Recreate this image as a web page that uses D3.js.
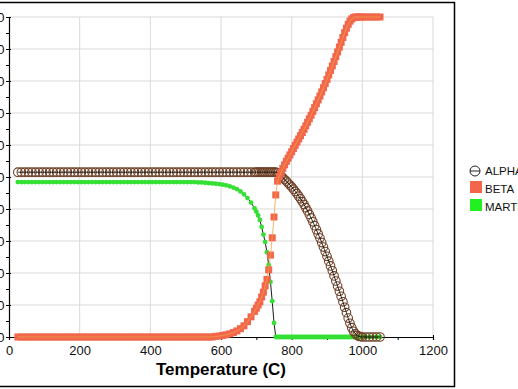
<!DOCTYPE html>
<html>
<head>
<meta charset="utf-8">
<script src="https://cdn.jsdelivr.net/npm/d3@7"></script>
<style>
  body { margin: 0; background: #fff; }
  svg { display: block; font-family: "Liberation Sans", Arial, sans-serif; }
</style>
</head>
<body>
<div id="chart"></div>
<script>
// temperatures (C) of the computed steps
const temps = [
  25, 35, 45, 55, 65, 75, 85, 95, 105, 115, 125, 135, 145, 155, 165, 175, 185, 195,
  205, 215, 225, 235, 245, 255, 265, 275, 285, 295, 305, 315, 325, 335, 345, 355,
  365, 375, 385, 395, 405, 415, 425, 435, 445, 455, 465, 475, 485, 495, 505, 515,
  525, 535, 545, 555, 565, 575, 585, 595, 605, 615, 625, 635, 645, 655, 665, 675,
  685, 695,
  700, 705, 710, 715, 720, 725, 730, 735, 740, 745, 750, 755,
  760, 765, 770, 775, 780, 785, 790, 795, 800, 805, 810, 815, 820, 825, 830, 835,
  840, 845, 850, 855, 860, 865, 870, 875, 880, 885, 890, 895, 900, 905, 910, 915,
  920, 925, 930, 935, 940, 945, 950, 955, 960, 965, 970, 975, 980, 985, 990, 995,
  1000, 1010, 1020, 1030, 1040, 1050
];

// phase fractions (%)
const alpha = [
  51.5, 51.5, 51.5, 51.5, 51.5, 51.5, 51.5, 51.5, 51.5, 51.5, 51.5, 51.5, 51.5, 51.5, 51.5, 51.5, 51.5, 51.5,
  51.5, 51.5, 51.5, 51.5, 51.5, 51.5, 51.5, 51.5, 51.5, 51.5, 51.5, 51.5, 51.5, 51.5, 51.5, 51.5,
  51.5, 51.5, 51.5, 51.5, 51.5, 51.5, 51.5, 51.5, 51.5, 51.5, 51.5, 51.5, 51.5, 51.5, 51.5, 51.5,
  51.5, 51.5, 51.5, 51.5, 51.5, 51.5, 51.5, 51.5, 51.5, 51.5, 51.5, 51.5, 51.5, 51.5, 51.5, 51.5,
  51.5, 51.5,
  51.5, 51.5, 51.5, 51.5, 51.5, 51.5, 51.5, 51.5, 51.5, 51.5, 51.5, 51.5,
  51.3, 50.8, 50.3, 49.8, 49.2, 48.7, 48.1, 47.5, 46.9, 46.2, 45.5, 44.8, 44.0, 43.2, 42.3, 41.4,
  40.4, 39.4, 38.3, 37.2, 36.0, 34.8, 33.5, 32.2, 30.9, 29.5, 28.1, 26.7, 25.2, 23.7, 22.2, 20.7,
  19.1, 17.5, 15.9, 14.3, 12.7, 11.0, 9.3, 7.6, 5.9, 4.3, 2.9, 1.8, 1.0, 0.5, 0.2, 0.1,
  0, 0, 0, 0, 0, 0
];

const beta = [
  0, 0, 0, 0, 0, 0, 0, 0, 0, 0, 0, 0, 0, 0, 0, 0, 0, 0,
  0, 0, 0, 0, 0, 0, 0, 0, 0, 0, 0, 0, 0, 0, 0, 0,
  0, 0, 0, 0, 0, 0, 0, 0, 0, 0, 0, 0, 0, 0, 0, 0,
  0, 0, 0, 0, 0, 0, 0.2, 0.3, 0.5, 0.7, 1.0, 1.4, 1.9, 2.6, 3.5, 4.8,
  6.3, 8.0,
  9, 10, 11, 12.5, 14, 16, 18, 21, 25.6, 31, 37.5, 44.4,
  48.7, 50.2, 51.5, 52.7, 53.8, 54.9, 55.9, 56.9, 57.9, 58.9, 59.9, 60.9, 61.9, 62.9, 63.9, 64.9,
  66.0, 67.1, 68.2, 69.3, 70.5, 71.7, 72.9, 74.1, 75.3, 76.6, 77.9, 79.2, 80.5, 81.9, 83.3, 84.7,
  86.1, 87.6, 89.1, 90.6, 92.1, 93.6, 95.1, 96.5, 97.7, 98.7, 99.4, 99.8, 100, 100, 100, 100,
  100, 100, 100, 100, 100, 100
];

const mart = [
  48.4, 48.4, 48.4, 48.4, 48.4, 48.4, 48.4, 48.4, 48.4, 48.4, 48.4, 48.4, 48.4, 48.4, 48.4, 48.4, 48.4, 48.4,
  48.4, 48.4, 48.4, 48.4, 48.4, 48.4, 48.4, 48.4, 48.4, 48.4, 48.4, 48.4, 48.4, 48.4, 48.4, 48.4,
  48.4, 48.4, 48.4, 48.4, 48.4, 48.4, 48.4, 48.4, 48.4, 48.4, 48.4, 48.4, 48.4, 48.4, 48.4, 48.4,
  48.4, 48.3, 48.3, 48.2, 48.1, 48.0, 47.9, 47.8, 47.6, 47.4, 47.1, 46.7, 46.2, 45.5, 44.6, 43.4,
  42.0, 40.2,
  39.2, 38, 36.6, 34.4, 32, 29.7, 26.5, 22.5, 17.2, 11.2, 4.4, 0,
  0, 0, 0, 0, 0, 0, 0, 0, 0, 0, 0, 0, 0, 0, 0, 0,
  0, 0, 0, 0, 0, 0, 0, 0, 0, 0, 0, 0, 0, 0, 0, 0,
  0, 0, 0, 0, 0, 0, 0, 0, 0, 0, 0, 0, 0, 0, 0, 0,
  0, 0, 0, 0, 0, 0
];

const xTicks = [0, 200, 400, 600, 800, 1000, 1200];
const yTicks = [0, 10, 20, 30, 40, 50, 60, 70, 80, 90, 100];
const legendNames = ['ALPHA', 'BETA', 'MARTENSITE'];

const width = 518,
    height = 389,
    colors = {
        alpha: '#6e4026',
        beta: '#f2674b',
        betaLine: '#f0a044',
        mart: '#33e033',
        grid: '#d9d9d9'
    };

const x = d3.scaleLinear().domain([0, 1200]).range([9, 433]);
const y = d3.scaleLinear().domain([0, 100]).range([337, 17]);

const svg = d3.select('#chart').append('svg')
    .attr('width', width)
    .attr('height', height);

// grid
svg.append('g').selectAll('line.v')
    .data(xTicks.slice(1))
    .join('line')
    .attr('x1', d => x(d)).attr('x2', d => x(d))
    .attr('y1', y(0)).attr('y2', y(100))
    .attr('stroke', colors.grid);
svg.append('g').selectAll('line.h')
    .data(yTicks.slice(1))
    .join('line')
    .attr('x1', x(0)).attr('x2', x(1200))
    .attr('y1', d => y(d)).attr('y2', d => y(d))
    .attr('stroke', colors.grid);

// axes
const xAxis = svg.append('g')
    .attr('transform', `translate(0,${y(0)})`)
    .call(d3.axisBottom(x).tickValues(xTicks).tickSize(3).tickPadding(6).tickFormat(d3.format('d')));
xAxis.selectAll('.tick line').attr('y1', -2);
svg.append('g')
    .attr('transform', `translate(0,${y(0)})`)
    .call(d3.axisBottom(x).tickValues([100, 300, 500, 700, 900, 1100]).tickSize(3).tickFormat(''))
    .select('.domain').remove();

const yAxis = svg.append('g')
    .attr('transform', `translate(${x(0)},0)`)
    .call(d3.axisLeft(y).tickValues(yTicks).tickSize(3).tickPadding(1.5));
yAxis.selectAll('.tick line').attr('x1', 2);
svg.append('g')
    .attr('transform', `translate(${x(0)},0)`)
    .call(d3.axisLeft(y).tickValues([5, 15, 25, 35, 45, 55, 65, 75, 85, 95]).tickSize(3).tickFormat(''))
    .select('.domain').remove();

svg.selectAll('.domain').attr('stroke', '#000').attr('stroke-width', 1.2);
svg.selectAll('.tick line').attr('stroke', '#000');
svg.selectAll('.tick text')
    .attr('font-size', 13)
    .attr('fill', '#111')
    .attr('font-family', '"Liberation Sans", Arial, sans-serif');

svg.append('text')
    .attr('x', (x(0) + x(1200)) / 2)
    .attr('y', 375)
    .attr('text-anchor', 'middle')
    .attr('font-size', 17)
    .attr('font-weight', 'bold')
    .text('Temperature (C)');

// frame
svg.append('path')
    .attr('d', 'M-5,2.5H454.5V386.5H-5')
    .attr('fill', 'none')
    .attr('stroke', '#000')
    .attr('stroke-width', 1.5);

const pts = key => temps.map((t, i) => ({ t, v: key[i] }));
const line = d3.line().x(d => x(d.t)).y(d => y(d.v));

// martensite: line under the dots
const mg = svg.append('g');
mg.append('path')
    .attr('d', line(pts(mart)))
    .attr('fill', 'none')
    .attr('stroke', '#000')
    .attr('stroke-width', 0.9);
mg.selectAll('circle')
    .data(pts(mart))
    .join('circle')
    .attr('cx', d => x(d.t)).attr('cy', d => y(d.v))
    .attr('r', 2.4)
    .attr('fill', colors.mart);

// alpha
const ag = svg.append('g');
ag.selectAll('circle')
    .data(pts(alpha))
    .join('circle')
    .attr('cx', d => x(d.t)).attr('cy', d => y(d.v))
    .attr('r', 4.3)
    .attr('fill', 'none')
    .attr('stroke', colors.alpha)
    .attr('stroke-width', 1.1);
ag.append('path')
    .attr('d', line(pts(alpha)))
    .attr('fill', 'none')
    .attr('stroke', '#000')
    .attr('stroke-width', 0.8);

// beta
const bg = svg.append('g');
bg.selectAll('rect')
    .data(pts(beta))
    .join('rect')
    .attr('x', d => x(d.t) - 3.5).attr('y', d => y(d.v) - 3.5)
    .attr('width', 7).attr('height', 7)
    .attr('fill', colors.beta);
bg.append('path')
    .attr('d', line(pts(beta)))
    .attr('fill', 'none')
    .attr('stroke', colors.betaLine)
    .attr('stroke-width', 0.8);

// legend
const lg = svg.append('g').attr('font-size', 11.5);
lg.append('circle')
    .attr('cx', 475).attr('cy', 171).attr('r', 5)
    .attr('fill', 'none').attr('stroke', '#222');
lg.append('line')
    .attr('x1', 470).attr('x2', 480).attr('y1', 171).attr('y2', 171)
    .attr('stroke', '#222');
lg.append('rect').attr('x', 470).attr('y', 181).attr('width', 12).attr('height', 12)
    .attr('fill', colors.beta);
lg.append('rect').attr('x', 470).attr('y', 199).attr('width', 12).attr('height', 12)
    .attr('fill', '#22f022');
lg.selectAll('text')
    .data(legendNames)
    .join('text')
    .attr('x', 485)
    .attr('y', (d, i) => 175 + i * 18)
    .attr('fill', '#111')
    .text(d => d);
</script>
</body>
</html>
